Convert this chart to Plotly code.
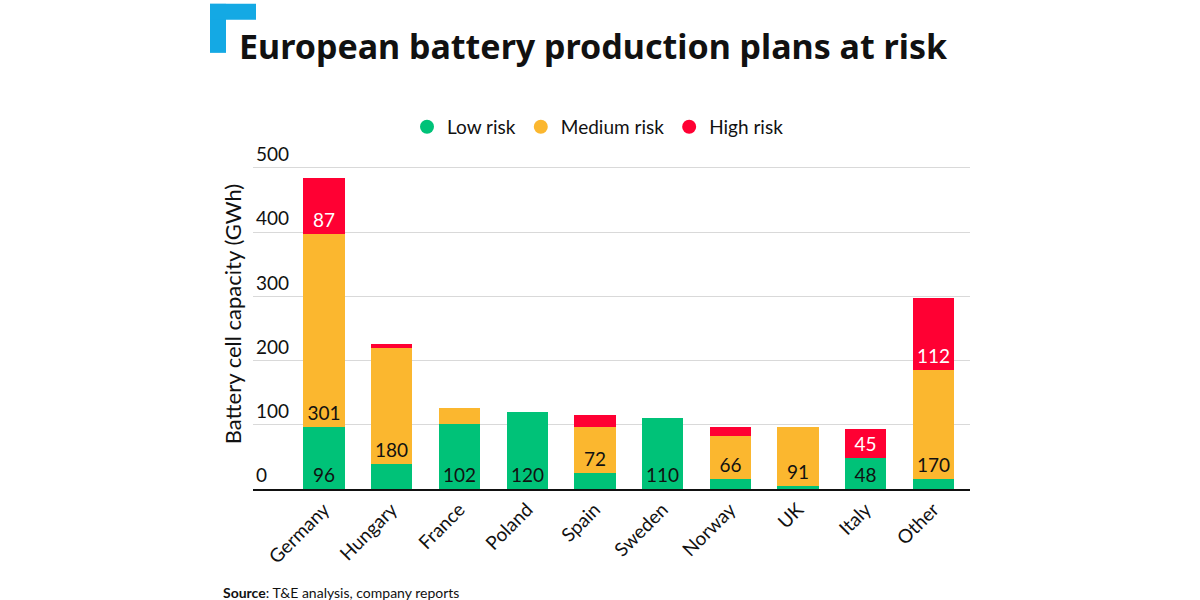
import plotly.graph_objects as go

countries = ["Germany", "Hungary", "France", "Poland", "Spain", "Sweden", "Norway", "UK", "Italy", "Other"]
low_risk = [96, 39, 102, 120, 25, 110, 16, 5, 48, 16]
medium_risk = [301, 180, 24, 0, 72, 0, 66, 91, 0, 170]
high_risk = [87, 7, 0, 0, 19, 0, 14, 0, 45, 112]
y_ticks = [0, 100, 200, 300, 400, 500]

GREEN = "#00c278"
ORANGE = "#fbb72f"
RED = "#ff0033"
FONT = "Lato"

# plot area in pixels (y range extended above 500 so the top tick label shows)
Y_MAX = 545
L, R, B = 253, 970, 489
PX_PER_UNIT = (489 - 168) / 500
T = B - Y_MAX * PX_PER_UNIT
W, H = R - L, B - T


def px_x(x):
    return (x - L) / W


def px_y(y):
    return (B - y) / H


def labels(vals, minimum=45):
    return [str(v) if v >= minimum else "" for v in vals]


fig = go.Figure()
series = [
    ("Low risk", low_risk, GREEN, "#111111"),
    ("Medium risk", medium_risk, ORANGE, "#111111"),
    ("High risk", high_risk, RED, "#ffffff"),
]
for name, vals, col, tcol in series:
    fig.add_trace(go.Bar(
        x=list(range(len(countries))), y=vals, name=name,
        marker=dict(color=col, line=dict(width=0)),
        width=0.61,
        text=labels(vals), textposition="inside", insidetextanchor="start",
        textangle=0, constraintext="none",
        textfont=dict(family=FONT, size=19, color=tcol),
        showlegend=False, hoverinfo="skip",
    ))
for name, vals, col, tcol in series:
    fig.add_trace(go.Scatter(
        x=[None], y=[None], mode="markers", name=name,
        marker=dict(color=col, size=14, symbol="circle"),
        showlegend=True,
    ))

fig.update_layout(
    barmode="stack",
    width=1200, height=600,
    margin=dict(l=L, r=1200 - R, t=T, b=600 - B),
    paper_bgcolor="white", plot_bgcolor="white",
    font=dict(family=FONT, size=19, color="#111111"),
    title=dict(
        text="<b>European battery production plans at risk</b>",
        x=239 / 1200, xanchor="left", xref="container",
        y=1 - 47 / 600, yanchor="middle",
        font=dict(family="Noto Sans", size=34, color="#111111"),
    ),
    legend=dict(
        orientation="h", x=px_x(598), xanchor="center",
        y=px_y(127), yanchor="middle", traceorder="normal",
        font=dict(family=FONT, size=19, color="#111111"),
        itemwidth=30, tracegroupgap=0,
    ),
    bargap=0,
)

fig.update_xaxes(
    range=[-1.05, 9.54],
    tickmode="array", tickvals=list(range(len(countries))), ticktext=countries,
    tickangle=-45, showline=True, linecolor="#111111", linewidth=2,
    showgrid=False, ticks="", zeroline=False,
    tickfont=dict(family=FONT, size=19, color="#111111"),
)
fig.update_yaxes(
    range=[0, Y_MAX], tickmode="array", tickvals=y_ticks,
    ticklabelposition="inside top", showgrid=True, gridcolor="#d9d9d9",
    gridwidth=1, zeroline=False, showline=False, ticks="",
    tickfont=dict(family=FONT, size=19, color="#111111"),
    title=dict(text="Battery cell capacity (GWh)", standoff=8,
               font=dict(family=FONT, size=22, color="#111111")),
)

# logo
LOGO = "#14a9e4"
fig.add_shape(type="rect", xref="paper", yref="paper",
              x0=px_x(210), x1=px_x(226), y0=px_y(53), y1=px_y(4),
              fillcolor=LOGO, line=dict(width=0), layer="above")
fig.add_shape(type="rect", xref="paper", yref="paper",
              x0=px_x(210), x1=px_x(256), y0=px_y(20), y1=px_y(4),
              fillcolor=LOGO, line=dict(width=0), layer="above")

fig.add_annotation(
    text="<b>Source</b>: T&E analysis, company reports",
    xref="paper", yref="paper", x=px_x(221), y=px_y(592),
    xanchor="left", yanchor="middle", showarrow=False,
    font=dict(family=FONT, size=14, color="#111111"),
)

fig.write_html("out.html")
